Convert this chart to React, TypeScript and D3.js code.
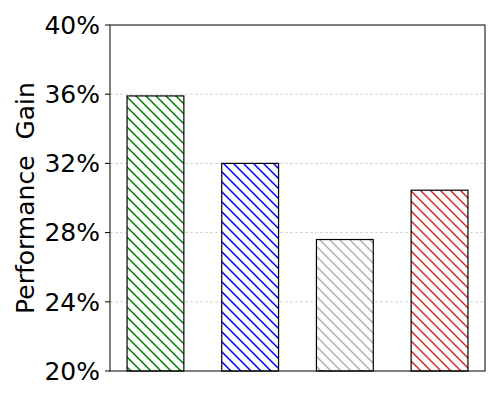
import React from "react";
import * as d3 from "d3";

const categories = ["A", "B", "C", "D"];
const values = [35.9, 32.0, 27.6, 30.45];
const hatchColors = ["#008000", "#0000ff", "#b0b0b0", "#d62728"];
const yTicks = [20, 24, 28, 32, 36, 40];
const yLabel = "Performance  Gain";

export default function App() {
  const W = 500, H = 400;
  const left = 110, right = 485, top = 25, bottom = 371;
  const x = d3.scaleLinear().domain([-0.48, 3.48]).range([left, right]);
  const y = d3.scaleLinear().domain([20, 40]).range([bottom, top]);
  const bw = x(0.6) - x(0);
  const font = "DejaVu Sans, sans-serif";
  const s = 10;
  return (
    <svg width={W} height={H} style={{ position: "absolute", left: 0, top: 0 }}>
      <defs>
        {hatchColors.map((c, i) => (
          <pattern key={i} id={`h${i}`} patternUnits="userSpaceOnUse" width={s} height={s}>
            <rect width={s} height={s} fill="#fff" />
            <path d={`M0,0L${s},${s}M${-s / 2},${s / 2}L${s / 2},${s * 1.5}M${s / 2},${-s / 2}L${s * 1.5},${s / 2}`}
              stroke={c} strokeWidth={1.5} />
          </pattern>
        ))}
      </defs>
      <rect width={W} height={H} fill="#fff" />
      {yTicks.slice(1, -1).map((t) => (
        <line key={t} x1={left} x2={right} y1={y(t)} y2={y(t)} stroke="#cccccc"
          strokeWidth={0.8} strokeDasharray="3,2" />
      ))}
      {categories.map((c, i) => (
        <rect key={c} x={x(i) - bw / 2} y={y(values[i])} width={bw} height={bottom - y(values[i])}
          fill={`url(#h${i})`} stroke="#000" strokeWidth={1.2} />
      ))}
      <rect x={left} y={top} width={right - left} height={bottom - top} fill="none" stroke="#000" strokeWidth={1} />
      {yTicks.map((t) => (
        <g key={t}>
          <line x1={left - 5} x2={left} y1={y(t)} y2={y(t)} stroke="#000" strokeWidth={1} />
          <text x={left - 10} y={y(t)} dy="0.35em" textAnchor="end" fontFamily={font} fontSize={25}>
            {`${t}%`}
          </text>
        </g>
      ))}
      <text transform={`translate(${34},${(top + bottom) / 2}) rotate(-90)`} textAnchor="middle"
        fontFamily={font} fontSize={25} style={{ whiteSpace: "pre" }}>
        {yLabel}
      </text>
    </svg>
  );
}
